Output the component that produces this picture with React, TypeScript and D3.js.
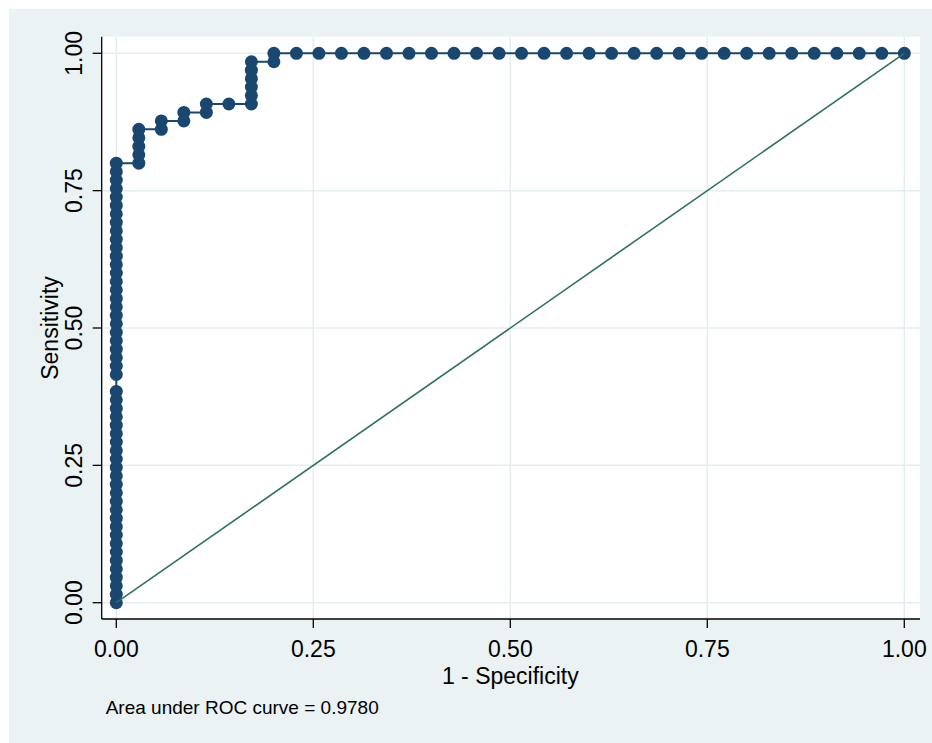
import React from "react";
import * as d3 from "d3";

// ROC points as counts: false positives out of 35 negatives, true positives out of 65 positives
const nNegative = 35;
const nPositive = 65;

const falsePos = [
  0, 0, 0, 0, 0, 0, 0, 0, 0, 0, 0, 0, 0, 0, 0, 0, 0, 0, 0, 0, 0, 0, 0, 0, 0, 0,
  0, 0, 0, 0, 0, 0, 0, 0, 0, 0, 0, 0, 0, 0, 0, 0, 0, 0, 0, 0, 0, 0, 0, 0, 0, 0,
  1, 1, 1, 1, 1,
  2, 2, 3, 3, 4, 4, 5,
  6, 6, 6, 6, 6, 6,
  7, 7,
  8, 9, 10, 11, 12, 13, 14, 15, 16, 17, 18, 19, 20, 21, 22, 23, 24, 25, 26, 27,
  28, 29, 30, 31, 32, 33, 34, 35,
];

const truePos = [
  0, 1, 2, 3, 4, 5, 6, 7, 8, 9, 10, 11, 12, 13, 14, 15, 16, 17, 18, 19, 20, 21,
  22, 23, 24, 25, 27, 28, 29, 30, 31, 32, 33, 34, 35, 36, 37, 38, 39, 40, 41, 42,
  43, 44, 45, 46, 47, 48, 49, 50, 51, 52,
  52, 53, 54, 55, 56,
  56, 57, 57, 58, 58, 59, 59,
  59, 60, 61, 62, 63, 64,
  64, 65,
  65, 65, 65, 65, 65, 65, 65, 65, 65, 65, 65, 65, 65, 65, 65, 65, 65, 65, 65, 65,
  65, 65, 65, 65, 65, 65, 65, 65,
];

const ticks = [0, 0.25, 0.5, 0.75, 1];
const tickLabels = ["0.00", "0.25", "0.50", "0.75", "1.00"];
const aucNote = "Area under ROC curve = 0.9780";

const W = 932;
const H = 743;
const plot = { left: 101.7, right: 920, top: 36.7, bottom: 619 };
const font = "'Liberation Sans', Arial, Helvetica, sans-serif";
const navy = "#1a476f";
const gridColor = "#e3edef";

const App = () => {
  const x = d3.scaleLinear().domain([0, 1]).range([116.3, 904.3]);
  const y = d3.scaleLinear().domain([0, 1]).range([602.7, 53.3]);

  const points = falsePos.map((fp, i) => ({
    spec: fp / nNegative,
    sens: truePos[i] / nPositive,
  }));

  const rocLine = d3
    .line<{ spec: number; sens: number }>()
    .x((d) => x(d.spec))
    .y((d) => y(d.sens));

  const diagonal = d3
    .line<number>()
    .x((d) => x(d))
    .y((d) => y(d));

  return (
    <svg
      width={W}
      height={H}
      style={{ position: "absolute", left: 0, top: 0, background: "#fff" }}
      fontFamily={font}
    >
      {/* outer background */}
      <rect x={9} y={9} width={W - 9} height={H - 9} fill="#eaf2f3" />
      {/* plot region */}
      <rect
        x={plot.left}
        y={plot.top}
        width={plot.right - plot.left}
        height={plot.bottom - plot.top}
        fill="#fff"
      />

      {/* grid */}
      {ticks.map((t) => (
        <g key={"g" + t}>
          <line
            x1={x(t)}
            x2={x(t)}
            y1={plot.top}
            y2={plot.bottom}
            stroke={gridColor}
            strokeWidth={1.5}
          />
          <line
            x1={plot.left}
            x2={plot.right}
            y1={y(t)}
            y2={y(t)}
            stroke={gridColor}
            strokeWidth={1.5}
          />
        </g>
      ))}

      {/* axes */}
      <line x1={plot.left} x2={plot.left} y1={plot.top} y2={plot.bottom} stroke="#000" strokeWidth={1.3} />
      <line x1={plot.left} x2={plot.right} y1={plot.bottom} y2={plot.bottom} stroke="#000" strokeWidth={1.3} />

      {ticks.map((t, i) => (
        <g key={"t" + t}>
          <line x1={plot.left - 9} x2={plot.left} y1={y(t)} y2={y(t)} stroke="#000" strokeWidth={1.3} />
          <text
            transform={`translate(82,${y(t)}) rotate(-90)`}
            textAnchor="middle"
            fontSize={23}
            fill="#000"
          >
            {tickLabels[i]}
          </text>
          <line x1={x(t)} x2={x(t)} y1={plot.bottom} y2={plot.bottom + 9} stroke="#000" strokeWidth={1.3} />
          <text x={x(t)} y={657} textAnchor="middle" fontSize={23} fill="#000">
            {tickLabels[i]}
          </text>
        </g>
      ))}

      {/* axis titles */}
      <text
        transform={`translate(58,${y(0.5)}) rotate(-90)`}
        textAnchor="middle"
        fontSize={23}
        fill="#000"
      >
        Sensitivity
      </text>
      <text x={x(0.5)} y={683.5} textAnchor="middle" fontSize={23} fill="#000">
        1 - Specificity
      </text>

      {/* ROC curve */}
      <path d={rocLine(points) || ""} fill="none" stroke={navy} strokeWidth={2} />
      {points.map((d, i) => (
        <circle key={i} cx={x(d.spec)} cy={y(d.sens)} r={6.5} fill={navy} />
      ))}

      {/* reference line */}
      <path d={diagonal([0, 1]) || ""} fill="none" stroke="#2d7063" strokeWidth={1.6} />

      <text x={105.7} y={714} fontSize={19} fill="#000">
        {aucNote}
      </text>
    </svg>
  );
};

export default App;
